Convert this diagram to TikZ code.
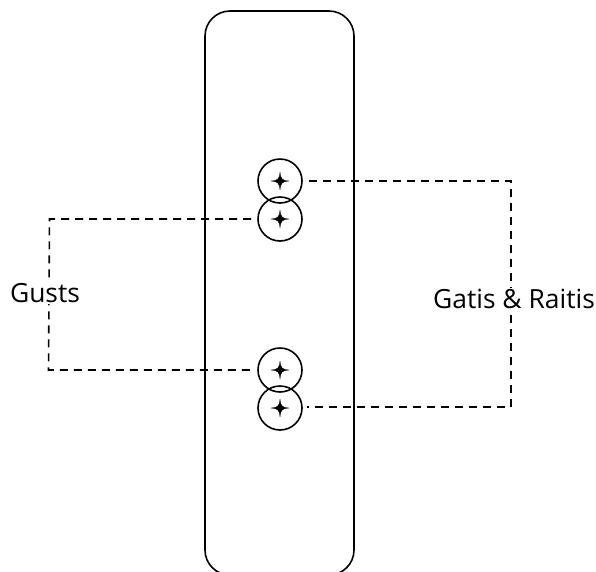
\documentclass[tikz,border=0pt]{standalone}
\usepackage{fontspec}
\setmainfont{Open Sans}
\tikzset{
  x=1pt,y=-1pt,
  outline/.style={draw=black,line width=1.6pt},
  pin/.style={circle,draw=black,line width=1.6pt,minimum size=44pt,inner sep=0pt},
  link/.style={draw=black,line width=1.6pt,dash pattern=on 8pt off 6pt,dash phase=8pt,shorten >=4pt},
  lbl/.style={fill=white,inner sep=1pt,font=\fontsize{26.4pt}{30pt}\selectfont,text=black},
  spark/.style={fill=black,draw=black,line width=.35pt,line join=round}
}
\newcommand{\sparkle}[1]{\path[spark,shift={(#1)}] (-9,0) .. controls (-2,-.5) and (-.5,-2) .. (0,-9) .. controls (.5,-2) and (2,-.5) .. (9,0) .. controls (2,.5) and (.5,2) .. (0,9) .. controls (-.5,2) and (-2,.5) .. (-9,0) -- cycle;}
\begin{document}
\begin{tikzpicture}
\useasboundingbox (0,0) rectangle (596,571);
\begin{scope}
\clip (0,0) rectangle (596,571);
\draw[outline,rounded corners=25pt] (205,11) rectangle (354,575);
\end{scope}
\node[pin] (p1) at (280,181) {};
\node[pin] (p2) at (280,219) {};
\node[pin] (p3) at (280,370) {};
\node[pin] (p4) at (280,408) {};
\foreach \c in {p1,p2,p3,p4} {\sparkle{\c}}
\coordinate (r1) at (511,181);
\coordinate (r2) at (511,407);
\coordinate (l1) at (49.5,219);
\coordinate (l2) at (48.5,370);
\draw[link] (p1.east) -- (r1) -- (r2) -- (p4.east |- r2);
\draw[link] (p2.west |- l1) -- (l1) -- (l2) -- (p3.west |- l2);
\node[lbl] (gusts) at (45,293) {Gusts};
\node[lbl] (gr) at (514,299) {Gatis \& Raitis};
\end{tikzpicture}
\end{document}
